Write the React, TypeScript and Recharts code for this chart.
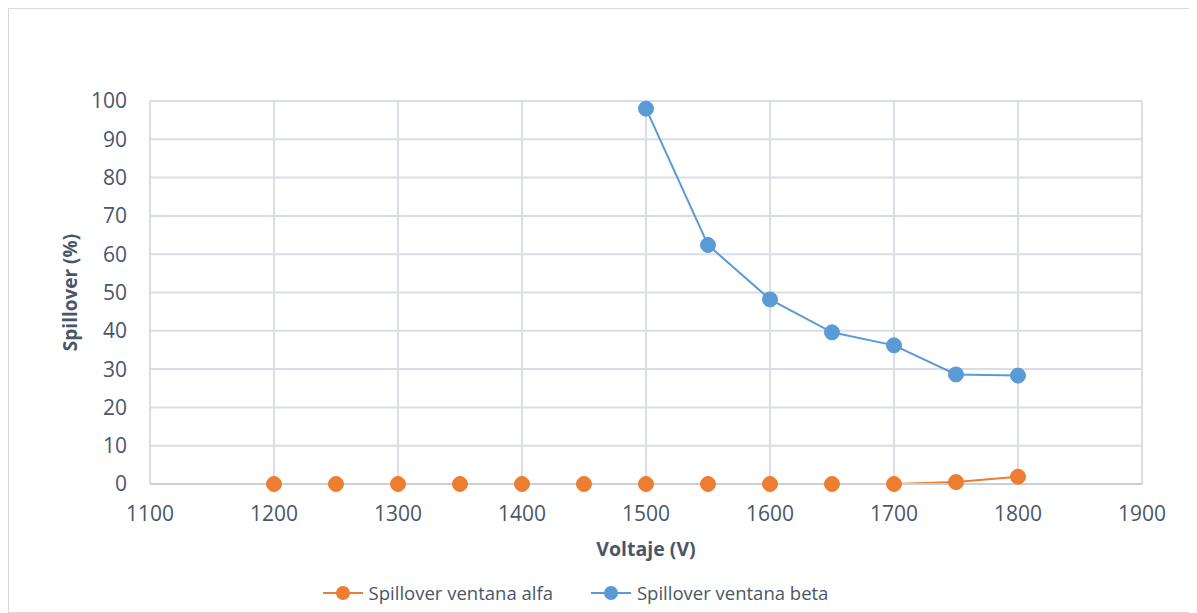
import { LineChart, Line, XAxis, YAxis, CartesianGrid, Legend } from 'recharts';

const voltages = [1200, 1250, 1300, 1350, 1400, 1450, 1500, 1550, 1600, 1650, 1700, 1750, 1800];
const alfa = [0, 0, 0, 0, 0, 0, 0, 0, 0, 0, 0, 0.5, 1.9];
const beta = [null, null, null, null, null, null, 98, 62.4, 48.2, 39.6, 36.2, 28.6, 28.3];
const xTicks = [1100, 1200, 1300, 1400, 1500, 1600, 1700, 1800, 1900];
const yTicks = [0, 10, 20, 30, 40, 50, 60, 70, 80, 90, 100];

const data = voltages.map((v, i) => ({ v, alfa: alfa[i], beta: beta[i] }));

const textColor = '#4a5668';
const gridColor = '#d9dee6';
const font = '"Open Sans", sans-serif';

const legendItems = [
  { name: 'Spillover ventana alfa', color: '#ed7d31' },
  { name: 'Spillover ventana beta', color: '#5b9bd5' },
];

const LegendContent = () => (
  <div style={{ display: 'flex', justifyContent: 'center', gap: 38, fontFamily: font, fontSize: 18.5, color: textColor, paddingLeft: 0 }}>
    {legendItems.map((it) => (
      <div key={it.name} style={{ display: 'flex', alignItems: 'center', gap: 6 }}>
        <svg width={40} height={16}>
          <line x1={0} y1={8} x2={40} y2={8} stroke={it.color} strokeWidth={2} />
          <circle cx={20} cy={8} r={7} fill={it.color} />
        </svg>
        <span>{it.name}</span>
      </div>
    ))}
  </div>
);

const YTitle = ({ viewBox }: any) => {
  const cy = viewBox.y + viewBox.height / 2;
  return (
    <text x={61} y={cy} transform={`rotate(-90 61 ${cy})`} textAnchor="middle" dominantBaseline="central"
      fontFamily={font} fontSize={19} fontWeight="bold" fill={textColor}>
      Spillover (%)
    </text>
  );
};

export default function App() {
  return (
    <div style={{ width: 1187, height: 603, border: '1px solid #d9d9d9', background: '#fff' }}>
      <LineChart width={1187} height={603} data={data} margin={{ top: 92, right: 54, left: 0, bottom: 4 }}>
        <CartesianGrid stroke={gridColor} strokeWidth={2} />
        <XAxis
          dataKey="v"
          type="number"
          domain={[1100, 1900]}
          ticks={xTicks}
          height={96}
          tickLine={false}
          tickSize={0}
          tickMargin={22}
          axisLine={{ stroke: '#c8cfd9', strokeWidth: 2 }}
          tick={{ fill: textColor, fontSize: 21, fontFamily: font }}
          label={{ value: 'Voltaje (V)', position: 'insideTop', offset: 58, fill: textColor, fontSize: 19.5, fontWeight: 'bold', fontFamily: font }}
        />
        <YAxis
          type="number"
          domain={[0, 100]}
          ticks={yTicks}
          width={141}
          tickLine={false}
          axisLine={false}
          tickSize={0}
          tickMargin={23}
          tick={{ fill: textColor, fontSize: 21, fontFamily: font }}
          label={<YTitle />}
        />
        <Legend verticalAlign="bottom" height={28} content={<LegendContent />} />
        <Line dataKey="alfa" name="Spillover ventana alfa" stroke="#ed7d31" strokeWidth={2}
          dot={{ r: 7.5, fill: '#ed7d31', stroke: '#ed7d31', strokeWidth: 1 }} isAnimationActive={false} />
        <Line dataKey="beta" name="Spillover ventana beta" stroke="#5b9bd5" strokeWidth={2}
          dot={{ r: 7.5, fill: '#5b9bd5', stroke: '#5b9bd5', strokeWidth: 1 }} isAnimationActive={false} />
      </LineChart>
    </div>
  );
}
